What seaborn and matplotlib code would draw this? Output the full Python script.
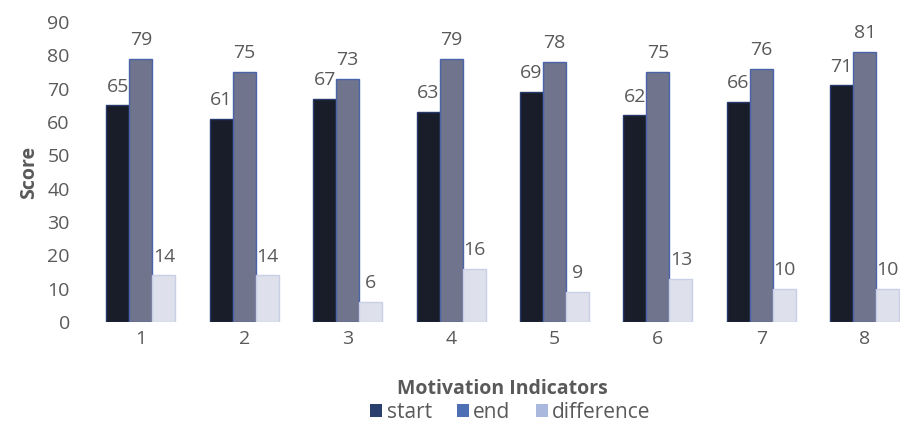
import pandas as pd
import numpy as np
import matplotlib
matplotlib.use('Agg')
import matplotlib.pyplot as plt
import seaborn as sns
from matplotlib.patches import Patch

indicators = ['1', '2', '3', '4', '5', '6', '7', '8']
start = [65, 61, 67, 63, 69, 62, 66, 71]
end = [79, 75, 73, 79, 78, 75, 76, 81]
difference = [14, 14, 6, 16, 9, 13, 10, 10]
series = ['start', 'end', 'difference']

df = pd.DataFrame({'indicator': indicators * 3,
                   'series': np.repeat(series, len(indicators)),
                   'score': start + end + difference})

sns.set_style('white')
plt.rcParams['font.family'] = ['Open Sans', 'DejaVu Sans']
grey = '#595959'

fill = {'start': '#161c2c', 'end': '#6b7192', 'difference': '#dcdfee'}
edge = {'start': '#27386a', 'end': '#4a64aa', 'difference': '#c9cfe6'}
legend_col = {'start': '#2a3f6e', 'end': '#4f6fb5', 'difference': '#aab8dd'}

fig = plt.figure(figsize=(9, 4.23), dpi=100)
ax = fig.add_axes([0.0992, 0.239, 0.919, 0.709])

sns.barplot(data=df, x='indicator', y='score', hue='series', order=indicators,
            hue_order=series, palette=fill, width=0.667, ax=ax, legend=False)

for cont, s in zip(ax.containers, series):
    for bar in cont:
        bar.set_edgecolor(edge[s])
        bar.set_linewidth(1.0)
    ax.bar_label(cont, labels=[str(int(v)) for v in cont.datavalues],
                 padding=7, fontsize=14, color=grey)

ax.set_ylim(0, 90)
ax.set_yticks(range(0, 91, 10))
ax.set_xlim(-0.5, 7.5)
for sp in ax.spines.values():
    sp.set_visible(False)
ax.tick_params(axis='both', length=0, labelsize=14, labelcolor=grey)
ax.tick_params(axis='y', pad=14)
ax.tick_params(axis='x', pad=6)
ax.set_ylabel('Score', fontsize=14, fontweight='bold', color=grey, labelpad=6)
ax.set_xlabel('Motivation Indicators', fontsize=14, fontweight='bold',
              color=grey, labelpad=22)

handles = [Patch(facecolor=legend_col[s], edgecolor='none', label=s) for s in series]
fig.legend(handles=handles, loc='center', bbox_to_anchor=(0.567, 0.025), ncol=3,
           frameon=False, fontsize=15, handlelength=0.6, handleheight=0.6,
           handletextpad=0.2, columnspacing=1.2, labelcolor=grey,
           borderpad=0)

fig.savefig('out.png', dpi=100)
